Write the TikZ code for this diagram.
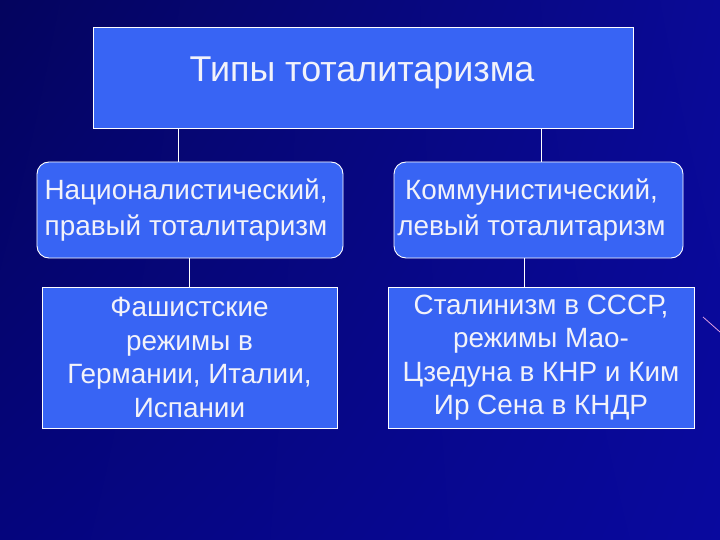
\documentclass[tikz,border=0pt]{standalone}
\usepackage{fontspec}
\usetikzlibrary{shadings}
\setmainfont{Liberation Sans}
\definecolor{bgUL}{RGB}{4,4,94}
\definecolor{bgUR}{RGB}{10,10,150}
\definecolor{bgLL}{RGB}{5,5,125}
\definecolor{bgLR}{RGB}{9,9,158}
\definecolor{boxblue}{RGB}{56,100,244}
\definecolor{txtwhite}{RGB}{242,242,250}
\definecolor{streak}{RGB}{225,160,225}
\tikzset{
  boxrect/.style={draw=white, line width=0.9bp, fill=boxblue, text=txtwhite, align=center, inner sep=0pt},
  boxround/.style={boxrect, rounded corners=12bp},
  link/.style={draw=white, line width=0.9bp},
  midfont/.style={font=\fontsize{28}{37}\selectfont},
  lowfont/.style={font=\fontsize{28}{33.5}\selectfont},
}
\begin{document}
\begin{tikzpicture}[x=1bp,y=-1bp]
\useasboundingbox (0,0) rectangle (720,540);
\shade[upper left=bgUL, upper right=bgUR, lower left=bgLL, lower right=bgLR] (0,0) rectangle (720,540);
\draw[streak, line width=0.8bp] (703,317) -- (720,332);

\node[boxrect, minimum width=540bp, minimum height=101bp] (top) at (363,77.5) {};
\node[text=txtwhite, font=\fontsize{36}{40}\selectfont, anchor=base, inner sep=0pt] (title) at (362,82) {Типы тоталитаризма};

\node[boxround, midfont, minimum width=306bp, minimum height=96bp] (L) at (190,210) {\hspace*{-8bp}Националистический,\\\hspace*{-8bp}правый тоталитаризм};
\node[boxround, midfont, minimum width=289bp, minimum height=96bp] (R) at (538.5,210) {\hspace*{-14bp}Коммунистический,\\\hspace*{-14bp}левый тоталитаризм};

\node[boxrect, lowfont, minimum width=295bp, minimum height=141bp] (LL) at (189.5,357.5) {Фашистские\\режимы в\\Германии, Италии,\\Испании};
\node[boxrect, lowfont, minimum width=306bp, minimum height=141bp] (RR) at (541,357.5) {Сталинизм в СССР,\\режимы Мао-\\Цзедуна в КНР и Ким\\Ир Сена в КНДР};

\coordinate (c1) at (178,0);
\coordinate (c2) at (541,0);
\coordinate (c3) at (189,0);
\coordinate (c4) at (524,0);
\draw[link] (top.south -| c1) -- (L.north -| c1);
\draw[link] (top.south -| c2) -- (R.north -| c2);
\draw[link] (L.south -| c3) -- (LL.north -| c3);
\draw[link] (R.south -| c4) -- (RR.north -| c4);
\end{tikzpicture}
\end{document}
